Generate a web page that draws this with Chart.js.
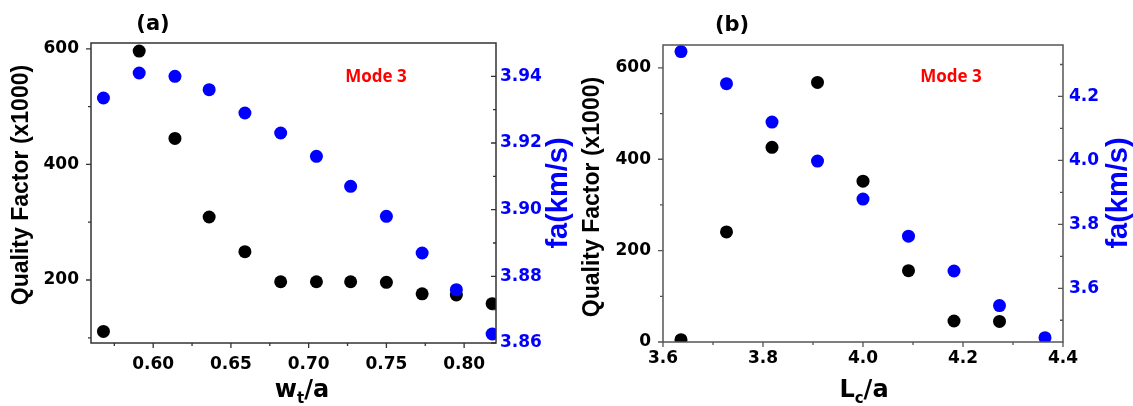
<!DOCTYPE html>
<html>
<head>
<meta charset="utf-8">
<script src="https://cdn.jsdelivr.net/npm/chart.js@4/dist/chart.umd.min.js"></script>
<style>
  html, body { margin: 0; padding: 0; background: #fff; }
  #wrap { position: relative; width: 1133px; height: 406px; overflow: hidden; }
  #chartA { position: absolute; left: 0; top: 0; }
  #chartB { position: absolute; left: 580px; top: 0; }
</style>
</head>
<body>
<div id="wrap">
  <canvas id="chartA" width="580" height="406"></canvas>
  <canvas id="chartB" width="553" height="406"></canvas>
</div>
<script>
// (a) quality factor and fa versus w_t/a
var wtRatio = [0.568, 0.591, 0.614, 0.636, 0.659, 0.682, 0.705, 0.727, 0.750, 0.773, 0.795, 0.818];
var qualityWt = [111, 596, 445, 309, 249, 197, 197, 197, 196, 176, 174, 159];
var faWt = [3.9335, 3.941, 3.940, 3.936, 3.929, 3.923, 3.916, 3.907, 3.898, 3.887, 3.876, 3.8627];

// (b) quality factor and fa versus Lc/a
var lcRatio = [3.636, 3.727, 3.818, 3.909, 4.000, 4.091, 4.182, 4.273, 4.364];
var qualityLc = [5, 241, 426, 568, 352, 156, 46, 45];
var faLc = [4.3405, 4.240, 4.120, 3.998, 3.879, 3.763, 3.654, 3.546, 3.4455];

// tick values (major ones get a label)
var xMajorA = [0.60, 0.65, 0.70, 0.75, 0.80];
var xMinorA = [0.575, 0.625, 0.675, 0.725, 0.775];
var qMajorA = [200, 400, 600];
var qMinorA = [100, 300, 500];
var faMajorA = [3.86, 3.88, 3.90, 3.92, 3.94];
var faMinorA = [3.87, 3.89, 3.91, 3.93];

var xMajorB = [3.6, 3.8, 4.0, 4.2, 4.4];
var xMinorB = [3.7, 3.9, 4.1, 4.3];
var qMajorB = [0, 200, 400, 600];
var qMinorB = [100, 300, 500];
var faMajorB = [3.6, 3.8, 4.0, 4.2];
var faMinorB = [3.5, 3.7, 3.9, 4.1, 4.3];

var BLUE = '#0000ff';
var tickFont = { family: 'DejaVu Sans', weight: 'bold', size: 17 };

function points(xs, ys) {
    var out = [];
    for (var i = 0; i < ys.length; i++) out.push({ x: xs[i], y: ys[i] });
    return out;
}

function isMajor(list, v) {
    for (var i = 0; i < list.length; i++) {
        if (Math.abs(list[i] - v) < 1e-9) return true;
    }
    return false;
}

function makeAxis(opt) {
    return {
        type: 'linear',
        position: opt.position,
        min: opt.min,
        max: opt.max,
        grid: { display: false, drawTicks: false },
        border: { display: false },
        ticks: {
            font: tickFont,
            color: opt.color || '#000',
            padding: opt.padding,
            autoSkip: false,
            maxRotation: 0,
            callback: function(value) {
                return isMajor(opt.major, value) ? value.toFixed(opt.digits) : '';
            }
        },
        afterBuildTicks: function(scale) {
            var all = opt.major.concat(opt.minor).sort(function(a, b) { return a - b; });
            scale.ticks = all.map(function(v) { return { value: v }; });
        },
        afterFit: function(scale) {
            if (opt.position === 'bottom') scale.height = opt.size;
            else scale.width = opt.size;
        }
    };
}

function drawSubTitle(ctx, cx, baseline, main, sub, rest) {
    var bigFont = 'bold 24px "DejaVu Sans"';
    var smallFont = 'bold 15px "DejaVu Sans"';
    ctx.font = bigFont;
    var w1 = ctx.measureText(main).width;
    var w3 = ctx.measureText(rest).width;
    ctx.font = smallFont;
    var w2 = ctx.measureText(sub).width;
    var x = cx - (w1 + w2 + w3) / 2;
    ctx.textAlign = 'left';
    ctx.textBaseline = 'alphabetic';
    ctx.font = bigFont;
    ctx.fillText(main, x, baseline);
    ctx.font = smallFont;
    ctx.fillText(sub, x + w1, baseline + 6);
    ctx.font = bigFont;
    ctx.fillText(rest, x + w1 + w2, baseline);
}

function vertText(ctx, text, cx, cy, font, color) {
    ctx.save();
    ctx.translate(cx, cy);
    ctx.rotate(-Math.PI / 2);
    ctx.font = font;
    ctx.fillStyle = color;
    ctx.textAlign = 'center';
    ctx.textBaseline = 'middle';
    ctx.fillText(text, 0, 0);
    ctx.restore();
}

var panelDecor = {
    id: 'panelDecor',
    afterDraw: function(chart, args, o) {
        var ctx = chart.ctx;
        var a = chart.chartArea;
        ctx.save();

        // tick marks: outward on left and bottom, inward on the right
        ctx.strokeStyle = o.boxColor;
        ctx.lineWidth = 1.3;
        ctx.beginPath();
        chart.scales.x.ticks.forEach(function(t) {
            var p = chart.scales.x.getPixelForValue(t.value);
            var len = t.label ? 5 : 3;
            ctx.moveTo(p, a.bottom); ctx.lineTo(p, a.bottom + len);
        });
        chart.scales.y.ticks.forEach(function(t) {
            var p = chart.scales.y.getPixelForValue(t.value);
            var len = t.label ? 5 : 3;
            ctx.moveTo(a.left - len, p); ctx.lineTo(a.left, p);
        });
        chart.scales.y1.ticks.forEach(function(t) {
            var p = chart.scales.y1.getPixelForValue(t.value);
            var len = t.label ? 5 : 3;
            ctx.moveTo(a.right - len, p); ctx.lineTo(a.right, p);
        });
        ctx.stroke();

        ctx.lineWidth = 1.5;
        ctx.strokeRect(a.left, a.top, a.right - a.left, a.bottom - a.top);

        // panel tag
        ctx.fillStyle = '#000';
        ctx.font = 'bold 21px "DejaVu Sans"';
        ctx.textAlign = 'center';
        ctx.textBaseline = 'middle';
        ctx.fillText(o.tag, o.tagX, o.tagY);

        // mode label
        ctx.fillStyle = '#ff0000';
        ctx.font = 'bold 17px "Open Sans"';
        ctx.fillText('Mode 3', o.modeX, o.modeY);

        // x title with subscript
        ctx.fillStyle = '#000';
        drawSubTitle(ctx, o.xTitleX, 397, o.xTitle[0], o.xTitle[1], o.xTitle[2]);

        vertText(ctx, 'Quality Factor (x1000)', o.qX, o.qY, 'bold 23px "Liberation Sans"', '#000');
        vertText(ctx, 'fa(km/s)', o.faX, 193, 'bold 29px "Liberation Sans"', BLUE);

        ctx.restore();
    }
};

function makeChart(id, d) {
    return new Chart(document.getElementById(id), {
        type: 'scatter',
        data: {
            datasets: [{
                label: 'fa',
                data: points(d.xs, d.fa),
                yAxisID: 'y1',
                backgroundColor: BLUE,
                borderWidth: 0,
                pointRadius: 6.5,
                pointHoverRadius: 6.5,
                clip: 0
            }, {
                label: 'Q',
                data: points(d.xs, d.q),
                yAxisID: 'y',
                backgroundColor: '#000',
                borderWidth: 0,
                pointRadius: 6.5,
                pointHoverRadius: 6.5,
                clip: 0
            }]
        },
        options: {
            responsive: false,
            animation: false,
            layout: { padding: { top: d.top, left: 0, right: 0, bottom: 0 } },
            scales: d.scales,
            plugins: {
                legend: { display: false },
                tooltip: { enabled: false },
                panelDecor: d.decor
            }
        },
        plugins: [panelDecor]
    });
}

makeChart('chartA', {
    xs: wtRatio, q: qualityWt, fa: faWt, top: 43,
    scales: {
        x: makeAxis({ position: 'bottom', min: 0.56, max: 0.8205, major: xMajorA, minor: xMinorA, digits: 2, padding: 11, size: 63 }),
        y: makeAxis({ position: 'left', min: 91, max: 610, major: qMajorA, minor: qMinorA, digits: 0, padding: 12, size: 91 }),
        y1: makeAxis({ position: 'right', min: 3.86, max: 3.95, major: faMajorA, minor: faMinorA, digits: 2, padding: 4, size: 84, color: BLUE })
    },
    decor: {
        boxColor: '#333', tag: '(a)', tagX: 153, tagY: 25,
        modeX: 376, modeY: 77,
        xTitle: ['w', 't', '/a'], xTitleX: 302,
        qX: 22, qY: 185, faX: 559
    }
});

makeChart('chartB', {
    xs: lcRatio, q: qualityLc, fa: faLc, top: 45,
    scales: {
        x: makeAxis({ position: 'bottom', min: 3.6, max: 4.4, major: xMajorB, minor: xMinorB, digits: 1, padding: 6, size: 64 }),
        y: makeAxis({ position: 'left', min: 0, max: 650, major: qMajorB, minor: qMinorB, digits: 0, padding: 12, size: 83 }),
        y1: makeAxis({ position: 'right', min: 3.432, max: 4.361, major: faMajorB, minor: faMinorB, digits: 1, padding: 6, size: 70, color: BLUE })
    },
    decor: {
        boxColor: '#555', tag: '(b)', tagX: 152, tagY: 26,
        modeX: 371, modeY: 77,
        xTitle: ['L', 'c', '/a'], xTitleX: 284,
        qX: 13, qY: 197, faX: 539
    }
});
</script>
</body>
</html>
